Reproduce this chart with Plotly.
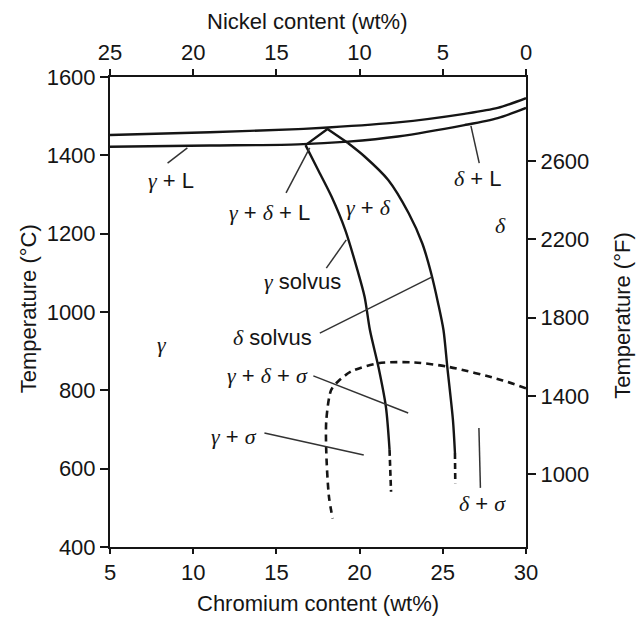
import plotly.graph_objects as go

# ---------------- data ----------------
cr_ticks = [5, 10, 15, 20, 25, 30]
ni_ticks = [25, 20, 15, 10, 5, 0]
tc_ticks = [400, 600, 800, 1000, 1200, 1400, 1600]
tf_ticks = [1000, 1400, 1800, 2200, 2600]

# liquidus (upper) and solidus (lower) lines
liq_cr = [5, 11, 16.3, 18.1, 22.3, 26.3, 28.3, 30]
liq_t = [1452, 1459, 1467, 1471, 1484, 1506, 1521, 1546]
sol_cr = [5, 11, 16.3, 19.3, 22.3, 26.3, 28.3, 30]
sol_t = [1422, 1425, 1428, 1435, 1448, 1477, 1495, 1521]

# three-phase triangle gamma + delta + L
tri_cr = [16.75, 18.07, 19.28]
tri_t = [1426, 1467, 1432]

# gamma solvus (solid part, dashed extension)
gsol_cr = [16.75, 17.5, 18.32, 19.14, 19.87, 20.3, 20.62, 21.13, 21.58, 21.8]
gsol_t = [1426, 1363, 1294, 1209, 1107, 1039, 954, 860, 758, 648]
gsol_ext_cr = [21.8, 21.89]
gsol_ext_t = [648, 541]

# delta solvus (solid part, dashed extension)
dsol_cr = [19.28, 20.3, 21.72, 22.95, 23.77, 24.3, 24.72, 25.04, 25.27, 25.61, 25.73]
dsol_t = [1432, 1397, 1337, 1252, 1175, 1099, 1022, 954, 860, 724, 640]
dsol_ext_cr = [25.73, 25.75]
dsol_ext_t = [640, 563]

# sigma boundary (dashed)
sig_cr = [30, 28.55, 25.33, 23.31, 21.1, 19.49, 18.69, 18.29, 18.0, 18.0, 18.16, 18.38]
sig_t = [805, 826, 860, 871, 869, 848, 822, 801, 724, 639, 528, 473]

# region labels
G = '<i><span style="font-family:Liberation Serif">γ</span></i>'
D = '<i><span style="font-family:Liberation Serif">δ</span></i>'
S = '<i><span style="font-family:Liberation Serif">σ</span></i>'
lab_text = [G + " + L", G + " + " + D + " + L", G + " + " + D, D + " + L",
            D, G + " solvus", D + " solvus", G,
            G + " + " + D + " + " + S, G + " + " + S, D + " + " + S]
lab_cr = [8.64, 14.61, 20.52, 27.13, 28.47, 16.55, 14.78, 8.1, 14.45, 12.47, 27.39]
lab_t = [1336, 1253, 1266, 1340, 1222, 1079, 934, 917, 839, 681, 512]

# leader lines: (cr0, t0) -> (cr1, t1)
lead_cr0 = [8.46, 15.58, 26.69, 18.0, 17.61, 17.22, 14.28, 27.17]
lead_t0 = [1380, 1304, 1475, 1112, 946, 837, 691, 704]
lead_cr1 = [9.65, 17.0, 27.19, 19.2, 24.33, 22.92, 20.25, 27.26]
lead_t1 = [1419, 1419, 1380, 1184, 1089, 742, 635, 551]

# ---------------- figure ----------------
INK = "#151515"
fig = go.Figure()

def line(x, y, width=2.4, dash="solid", color=INK, shape="spline"):
    fig.add_trace(go.Scatter(x=x, y=y, mode="lines", hoverinfo="skip", showlegend=False,
                             line=dict(color=color, width=width, dash=dash, shape=shape,
                                       smoothing=0.8)))

line(liq_cr, liq_t)
line(sol_cr, sol_t)
line(tri_cr, tri_t, shape="linear")
line(gsol_cr, gsol_t)
line(gsol_ext_cr, gsol_ext_t, width=2.6, dash="6px,4px", shape="linear")
line(dsol_cr, dsol_t)
line(dsol_ext_cr, dsol_ext_t, width=2.6, dash="6px,4px", shape="linear")
line(sig_cr, sig_t, width=2.6, dash="7px,5px")

for a, b, c, d in zip(lead_cr0, lead_t0, lead_cr1, lead_t1):
    line([a, c], [b, d], width=1.5, color="#333", shape="linear")

# invisible trace to activate secondary axes
fig.add_trace(go.Scatter(x=[25], y=[1000], xaxis="x2", yaxis="y2", mode="markers",
                         marker=dict(opacity=0), hoverinfo="skip", showlegend=False))

sans = "Liberation Sans, Arial, sans-serif"
for t, x, y in zip(lab_text, lab_cr, lab_t):
    fig.add_annotation(x=x, y=y, xref="x", yref="y", text=t, showarrow=False,
                       font=dict(family=sans, size=22, color=INK))

tickfont = dict(family=sans, size=22, color=INK)
axcommon = dict(showgrid=False, zeroline=False, showline=True, linecolor=INK, linewidth=2,
                ticks="outside", tickwidth=1.5, tickcolor=INK, tickfont=tickfont)

# page has an 8px body margin: figure is sized to fit the 644x618 window
fig.update_layout(
    width=636, height=610,
    margin=dict(l=102, r=118, t=69, b=71),
    paper_bgcolor="white", plot_bgcolor="white",
    xaxis=dict(range=[5, 30], tickvals=cr_ticks, ticklen=5, **axcommon),
    xaxis2=dict(range=[25, 0], tickvals=ni_ticks, overlaying="x", side="top", anchor="y",
                ticklen=6, **axcommon),
    yaxis=dict(range=[400, 1600], tickvals=tc_ticks, ticklen=8, **axcommon),
    yaxis2=dict(range=[627, 3030], tickvals=tf_ticks, overlaying="y", side="right",
                anchor="x", ticklen=8, **axcommon),
)

titlefont = dict(family=sans, size=22, color=INK)
fig.add_annotation(text="Nickel content (wt%)", xref="paper", yref="paper", x=0.4736, y=1.119,
                   showarrow=False, font=titlefont, xanchor="center", yanchor="middle")
fig.add_annotation(text="Chromium content (wt%)", xref="paper", yref="paper", x=0.5, y=-0.121,
                   showarrow=False, font=titlefont, xanchor="center", yanchor="middle")
fig.add_annotation(text="Temperature (°C)", xref="paper", yref="paper", x=-0.197, y=0.506,
                   showarrow=False, font=titlefont, textangle=-90, xanchor="center", yanchor="middle")
fig.add_annotation(text="Temperature (°F)", xref="paper", yref="paper", x=1.233, y=0.494,
                   showarrow=False, font=titlefont, textangle=-90, xanchor="center", yanchor="middle")

fig.write_html("out.html")
